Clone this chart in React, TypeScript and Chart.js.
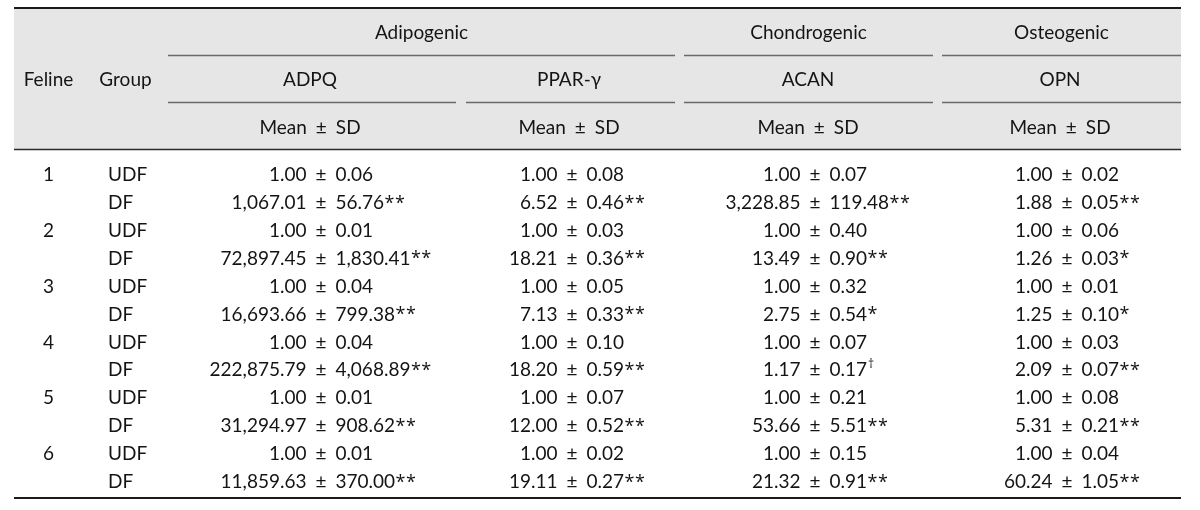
import React, { useEffect, useRef } from "react";
import { Chart, registerables } from "chart.js";

Chart.register(...registerables);

// ---------- data ----------
const felines = ["1", "2", "3", "4", "5", "6"];
const groups = ["UDF", "DF"];
const lineageHeaders = ["Adipogenic", "Chondrogenic", "Osteogenic"];
const markerHeaders = ["ADPQ", "PPAR-γ", "ACAN", "OPN"];
const statHeader = ["Mean", "±", "SD"];
const rowHeaders = ["Feline", "Group"];

const adpqMean = [1.0, 1067.01, 1.0, 72897.45, 1.0, 16693.66, 1.0, 222875.79, 1.0, 31294.97, 1.0, 11859.63];
const adpqSd = [0.06, 56.76, 0.01, 1830.41, 0.04, 799.38, 0.04, 4068.89, 0.01, 908.62, 0.01, 370.0];
const adpqSig = ["", "**", "", "**", "", "**", "", "**", "", "**", "", "**"];

const pparMean = [1.0, 6.52, 1.0, 18.21, 1.0, 7.13, 1.0, 18.2, 1.0, 12.0, 1.0, 19.11];
const pparSd = [0.08, 0.46, 0.03, 0.36, 0.05, 0.33, 0.1, 0.59, 0.07, 0.52, 0.02, 0.27];
const pparSig = ["", "**", "", "**", "", "**", "", "**", "", "**", "", "**"];

const acanMean = [1.0, 3228.85, 1.0, 13.49, 1.0, 2.75, 1.0, 1.17, 1.0, 53.66, 1.0, 21.32];
const acanSd = [0.07, 119.48, 0.4, 0.9, 0.32, 0.54, 0.07, 0.17, 0.21, 5.51, 0.15, 0.91];
const acanSig = ["", "**", "", "**", "", "*", "", "†", "", "**", "", "**"];

const opnMean = [1.0, 1.88, 1.0, 1.26, 1.0, 1.25, 1.0, 2.09, 1.0, 5.31, 1.0, 60.24];
const opnSd = [0.02, 0.05, 0.06, 0.03, 0.01, 0.1, 0.03, 0.07, 0.08, 0.21, 0.04, 1.05];
const opnSig = ["", "**", "", "*", "", "*", "", "**", "", "**", "", "**"];

const markerMeans = [adpqMean, pparMean, acanMean, opnMean];
const markerSds = [adpqSd, pparSd, acanSd, opnSd];
const markerSigs = [adpqSig, pparSig, acanSig, opnSig];

// ---------- layout (scale units = pixels) ----------
const LAYOUT = {
  left: 14,
  right: 1181,
  top: 8,
  headerBottom: 149.5,
  lineageRuleY: 55.5,
  markerRuleY: 102.5,
  bottom: 498,
  lineageY: 33,
  markerY: 80,
  statY: 128,
  felineX: 48.5,
  groupLabelX: 125.5,
  groupX: 108,
  firstRowY: 175,
  rowStep: 27.9,
  lineageSpans: [
    [168, 675],
    [684, 933],
    [942, 1181],
  ],
  markerSpans: [
    [168, 456],
    [466, 675],
    [684, 933],
    [942, 1181],
  ],
  markerCenters: [310, 569, 808, 1060],
  pmCenters: [321, 572, 815, 1067],
  pmGap: 9,
};

const FONT = "Lato, 'Open Sans', sans-serif";
const STAR_FONT = "'Open Sans', sans-serif";
const SIZE = 19;
const TEXT = "#141414";

const fmt = (v: number) =>
  v.toLocaleString("en-US", { minimumFractionDigits: 2, maximumFractionDigits: 2 });

const tablePlugin = {
  id: "tableDraw",
  afterDraw(chart: any) {
    const ctx: CanvasRenderingContext2D = chart.ctx;
    const xs = chart.scales.x;
    const ys = chart.scales.y;
    const X = (v: number) => xs.getPixelForValue(v);
    const Y = (v: number) => ys.getPixelForValue(v);
    const L = LAYOUT;
    ctx.save();

    ctx.fillStyle = "#e6e6e6";
    ctx.fillRect(X(L.left), Y(L.top), X(L.right) - X(L.left), Y(L.headerBottom) - Y(L.top));

    const hline = (x1: number, x2: number, y: number, w: number, c: string) => {
      ctx.beginPath();
      ctx.strokeStyle = c;
      ctx.lineWidth = w;
      ctx.moveTo(X(x1), Y(y));
      ctx.lineTo(X(x2), Y(y));
      ctx.stroke();
    };
    hline(L.left, L.right, L.top, 2, "#1a1a1a");
    hline(L.left, L.right, L.headerBottom, 1.3, "#2a2a2a");
    hline(L.left, L.right, L.bottom, 2.2, "#1a1a1a");
    L.lineageSpans.forEach(([a, b]) => hline(a, b, L.lineageRuleY, 1.3, "#6a6a6a"));
    L.markerSpans.forEach(([a, b]) => hline(a, b, L.markerRuleY, 1.3, "#6a6a6a"));

    const main = `${SIZE}px ${FONT}`;
    ctx.fillStyle = TEXT;
    ctx.textBaseline = "middle";
    ctx.font = main;
    ctx.textAlign = "center";
    ctx.fillText(rowHeaders[0], X(L.felineX), Y(L.markerY));
    ctx.fillText(rowHeaders[1], X(L.groupLabelX), Y(L.markerY));
    lineageHeaders.forEach((h, i) => {
      const [a, b] = L.lineageSpans[i];
      ctx.fillText(h, X((a + b) / 2), Y(L.lineageY));
    });
    markerHeaders.forEach((h, i) => {
      ctx.font = main;
      ctx.textAlign = "center";
      ctx.fillText(h, X(L.markerCenters[i]), Y(L.markerY));
      const pmW = ctx.measureText("±").width;
      const cx = X(L.markerCenters[i]);
      const wA = ctx.measureText(statHeader[0]).width;
      const wC = ctx.measureText(statHeader[2]).width;
      const total = wA + L.pmGap + pmW + L.pmGap + wC;
      const pmC = cx - total / 2 + wA + L.pmGap + pmW / 2;
      ctx.textAlign = "right";
      ctx.fillText(statHeader[0], pmC - pmW / 2 - L.pmGap, Y(L.statY));
      ctx.textAlign = "center";
      ctx.fillText(statHeader[1], pmC, Y(L.statY));
      ctx.textAlign = "left";
      ctx.fillText(statHeader[2], pmC + pmW / 2 + L.pmGap, Y(L.statY));
    });

    const nRows = felines.length * groups.length;
    for (let r = 0; r < nRows; r++) {
      const y = Y(L.firstRowY + r * L.rowStep);
      ctx.font = main;
      if (r % 2 === 0) {
        ctx.textAlign = "center";
        ctx.fillText(felines[r / 2], X(L.felineX), y);
      }
      ctx.textAlign = "left";
      ctx.fillText(groups[r % 2], X(L.groupX), y);

      for (let m = 0; m < markerMeans.length; m++) {
        ctx.font = main;
        const pmC = X(L.pmCenters[m]);
        const pmW = ctx.measureText("±").width;
        ctx.textAlign = "right";
        ctx.fillText(fmt(markerMeans[m][r]), pmC - pmW / 2 - L.pmGap, y);
        ctx.textAlign = "center";
        ctx.fillText("±", pmC, y);
        ctx.textAlign = "left";
        const sdText = fmt(markerSds[m][r]);
        const sdX = pmC + pmW / 2 + L.pmGap;
        ctx.fillText(sdText, sdX, y);
        const sig = markerSigs[m][r];
        if (sig) {
          const endX = sdX + ctx.measureText(sdText).width;
          if (sig === "†") {
            ctx.font = `12px ${STAR_FONT}`;
            ctx.fillText(sig, endX + 1, y - 6);
          } else {
            ctx.font = `18px ${STAR_FONT}`;
            let sx = endX + 0.5;
            for (const ch of sig) {
              ctx.fillText(ch, sx, y + 0.5);
              sx += ctx.measureText(ch).width + 0.5;
            }
          }
        }
      }
    }
    ctx.restore();
  },
};

export default function App() {
  const ref = useRef<HTMLCanvasElement | null>(null);
  useEffect(() => {
    if (!ref.current) return;
    const chart = new Chart(ref.current, {
      type: "scatter",
      data: { datasets: [{ data: [], pointRadius: 0 }] },
      options: {
        animation: false,
        responsive: true,
        maintainAspectRatio: false,
        layout: { padding: 0 },
        plugins: { legend: { display: false }, tooltip: { enabled: false } },
        scales: {
          x: { type: "linear", min: 0, max: 1200, display: false },
          y: { type: "linear", min: 0, max: 510, reverse: true, display: false },
        },
      },
      plugins: [tablePlugin],
    });
    return () => chart.destroy();
  }, []);
  return (
    <div style={{ position: "fixed", left: 0, top: 0, width: 1200, height: 510, background: "#fff" }}>
      <canvas ref={ref} />
    </div>
  );
}
